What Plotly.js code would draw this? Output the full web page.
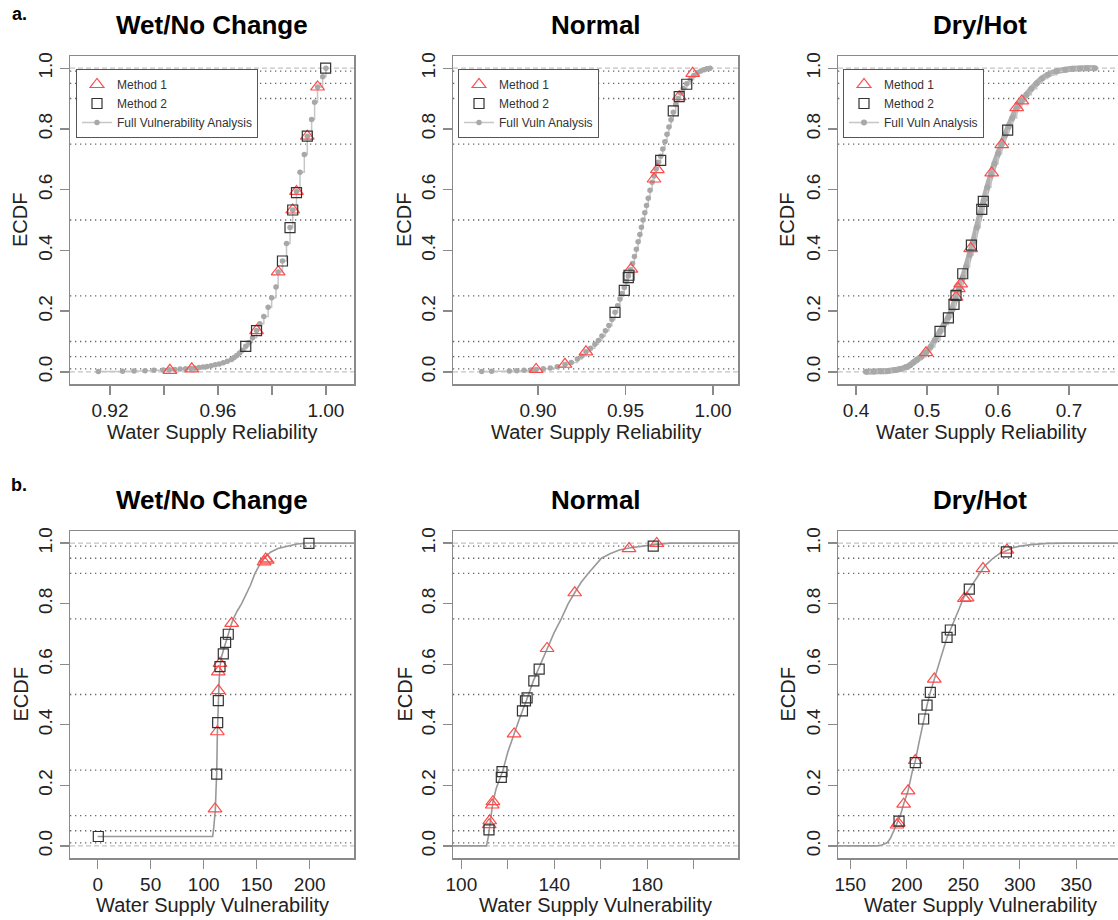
<!DOCTYPE html>
<html>
<head>
<meta charset="utf-8">
<script src="https://cdn.plot.ly/plotly-3.0.1.min.js"></script>
<style>html,body{margin:0;padding:0;background:#fff;}#chart{width:1118px;height:920px;}</style>
</head>
<body>
<div id="chart"></div>
<script>
// ---------------- DATA ----------------
const panelTitles = ['Wet/No Change', 'Normal', 'Dry/Hot'];
const rowLabels = ['a.', 'b.'];
const xTitleA = 'Water Supply Reliability';
const xTitleB = 'Water Supply Vulnerability';
const yTitle = 'ECDF';
const legendFullNames = ['Full Vulnerability Analysis', 'Full Vuln Analysis', 'Full Vuln Analysis'];
const yTickVals = [0, 0.2, 0.4, 0.6, 0.8, 1.0];
const yTickText = ['0.0', '0.2', '0.4', '0.6', '0.8', '1.0'];
const refLevels = [0.01, 0.05, 0.1, 0.25, 0.5, 0.75, 0.9, 0.95, 0.99];

// Row a: Water Supply Reliability
const a1FullX = [0.9157,0.9247,0.9289,0.9330,0.9363,0.9397,0.9420,0.9440,0.9460,0.9480,0.9500,0.9515,0.9530,0.9545,0.9560,0.9575,0.9590,0.9605,0.9620,0.9635,0.9650,0.9660,0.9670,0.9680,0.9690,0.9703,0.9715,0.9728,0.9743,0.9755,0.9770,0.9786,0.9799,0.9815,0.9823,0.9839,0.9854,0.9867,0.9877,0.9891,0.9904,0.9920,0.9931,0.9947,0.9958,0.9969,0.9988,1.0000];
const a1FullY = [0.001,0.002,0.003,0.004,0.005,0.006,0.007,0.008,0.009,0.010,0.011,0.012,0.014,0.016,0.018,0.020,0.023,0.026,0.030,0.035,0.041,0.047,0.054,0.062,0.071,0.084,0.097,0.112,0.136,0.158,0.182,0.213,0.244,0.279,0.329,0.365,0.423,0.475,0.533,0.594,0.657,0.716,0.776,0.831,0.888,0.938,0.972,1.000];
const a1M1X = [0.9422,0.9503,0.9743,0.9823,0.9877,0.9891,0.9931,0.9969];
const a1M1Y = [0.005,0.010,0.136,0.329,0.533,0.594,0.776,0.938];
const a1M2X = [0.9703,0.9743,0.9839,0.9867,0.9877,0.9891,0.9931,0.9999];
const a1M2Y = [0.084,0.136,0.365,0.475,0.533,0.590,0.776,1.000];
const a1TickVals = [0.92,0.94,0.96,0.98,1.00];
const a1TickText = ['0.92','','0.96','','1.00'];

const a2FullX = [0.8678,0.8735,0.8836,0.8878,0.8920,0.8960,0.8989,0.9030,0.9070,0.9110,0.9154,0.9190,0.9225,0.9250,0.9274,0.9300,0.9325,0.9345,0.9365,0.9385,0.9405,0.9422,0.9440,0.9455,0.9468,0.9480,0.9493,0.9505,0.9516,0.9528,0.9540,0.9551,0.9562,0.9572,0.9582,0.9591,0.9600,0.9610,0.9620,0.9630,0.9640,0.9652,0.9663,0.9675,0.9688,0.9701,0.9713,0.9725,0.9737,0.9748,0.9760,0.9773,0.9787,0.9800,0.9815,0.9830,0.9850,0.9870,0.9890,0.9910,0.9930,0.9950,0.9965,0.9983];
const a2FullY = [0.001,0.002,0.003,0.004,0.005,0.006,0.008,0.010,0.013,0.017,0.024,0.031,0.042,0.052,0.066,0.078,0.091,0.103,0.118,0.135,0.153,0.172,0.196,0.218,0.240,0.258,0.278,0.298,0.316,0.336,0.357,0.380,0.404,0.428,0.452,0.476,0.500,0.524,0.548,0.572,0.598,0.624,0.645,0.668,0.690,0.710,0.734,0.758,0.782,0.806,0.830,0.855,0.880,0.900,0.918,0.933,0.949,0.963,0.976,0.985,0.991,0.995,0.998,1.000];
const a2M1X = [0.8989,0.9154,0.9274,0.9531,0.9663,0.9682,0.9807,0.9884];
const a2M1Y = [0.008,0.025,0.066,0.338,0.635,0.666,0.906,0.983];
const a2M2X = [0.9440,0.9493,0.9516,0.9520,0.9701,0.9773,0.9807,0.9850];
const a2M2Y = [0.196,0.268,0.310,0.318,0.696,0.859,0.906,0.947];
const a2TickVals = [0.90,0.95,1.00];
const a2TickText = ['0.90','0.95','1.00'];

const a3FullX = [0.4140,0.4250,0.4350,0.4450,0.4550,0.4620,0.4700,0.4760,0.4808,0.4860,0.4920,0.4986,0.5050,0.5110,0.5183,0.5240,0.5301,0.5350,0.5400,0.5450,0.5503,0.5550,0.5600,0.5650,0.5700,0.5750,0.5800,0.5850,0.5900,0.5950,0.6000,0.6052,0.6100,0.6150,0.6200,0.6263,0.6335,0.6400,0.6470,0.6545,0.6620,0.6700,0.6827,0.6950,0.7050,0.7155,0.7250,0.7366];
const a3FullY = [0.000,0.001,0.002,0.003,0.006,0.009,0.015,0.022,0.031,0.040,0.050,0.064,0.082,0.104,0.133,0.156,0.180,0.204,0.240,0.272,0.310,0.345,0.385,0.428,0.475,0.520,0.565,0.608,0.648,0.685,0.718,0.750,0.780,0.808,0.836,0.868,0.892,0.912,0.932,0.950,0.966,0.978,0.990,0.995,0.998,0.999,1.000,1.000];
const a3M1X = [0.4986,0.5408,0.5441,0.5474,0.5615,0.5911,0.6052,0.6263,0.6335];
const a3M1Y = [0.063,0.246,0.274,0.290,0.406,0.655,0.748,0.870,0.892];
const a3M2X = [0.5183,0.5301,0.5380,0.5408,0.5503,0.5625,0.5771,0.5793,0.6136];
const a3M2Y = [0.133,0.178,0.222,0.252,0.323,0.417,0.535,0.561,0.796];
const a3TickVals = [0.4,0.5,0.6,0.7];
const a3TickText = ['0.4','0.5','0.6','0.7'];

// Row b: Water Supply Vulnerability
const b1FullX = [0,108.5,109.5,110.2,111.0,111.8,112.3,112.9,113.3,113.8,114.5,115.4,116.5,118.5,120.7,123.2,126.4,128.0,131.5,135.8,140.0,144.0,148.4,153.0,157.2,163.0,170.0,178.3,188.0,197.0,241.8];
const b1FullY = [0.031,0.031,0.060,0.090,0.120,0.200,0.240,0.370,0.420,0.490,0.540,0.590,0.620,0.645,0.672,0.700,0.735,0.750,0.775,0.800,0.830,0.860,0.900,0.930,0.950,0.970,0.982,0.990,0.997,1.000,1.000];
const b1M1X = [110.7,112.9,113.8,113.8,115.4,126.4,157.0,158.5,160.0];
const b1M1Y = [0.122,0.377,0.513,0.575,0.603,0.735,0.938,0.948,0.944];
const b1M2X = [0.6,112.3,113.2,113.8,115.4,118.5,120.7,123.2,199.3];
const b1M2Y = [0.031,0.237,0.407,0.480,0.592,0.634,0.672,0.699,0.999];
const b1TickVals = [0,50,100,150,200];
const b1TickText = ['0','50','100','150','200'];

const b2FullX = [96.4,110.8,111.6,112.2,113.0,113.6,115.0,116.5,117.9,120.0,122.7,125.0,128.0,131.0,133.5,136.9,140.0,143.0,146.0,148.8,151.5,154.6,157.5,160.3,164.0,168.0,172.2,177.6,183.0,189.8,219.1];
const b2FullY = [0,0,0.030,0.070,0.110,0.145,0.190,0.220,0.250,0.310,0.370,0.420,0.480,0.545,0.590,0.652,0.705,0.750,0.800,0.836,0.870,0.900,0.925,0.950,0.965,0.977,0.984,0.990,0.995,1.000,1.000];
const b2M1X = [112.0,112.2,113.3,113.6,122.7,136.9,148.8,172.2,184.1];
const b2M1Y = [0.070,0.083,0.135,0.146,0.370,0.652,0.836,0.982,0.999];
const b2M2X = [111.9,117.2,117.5,126.3,127.6,128.3,131.2,133.5,182.6];
const b2M2Y = [0.053,0.226,0.245,0.446,0.479,0.489,0.545,0.584,0.990];
const b2TickVals = [100,120,140,160,180,200];
const b2TickText = ['100','','140','','180',''];

const b3FullX = [139.1,173.6,178.0,182.5,185.5,188.4,191.3,194.2,197.2,201.1,205.1,207.5,211.0,214.9,217.9,220.8,224.3,228.0,232.0,235.6,238.5,242.9,246.5,250.3,255.3,259.5,264.4,267.4,270.0,276.3,282.0,288.6,294.0,300.4,310.0,324.0,340.0,387.2];
const b3FullY = [0,0,0.003,0.010,0.025,0.050,0.069,0.100,0.138,0.182,0.250,0.280,0.345,0.419,0.465,0.507,0.551,0.600,0.650,0.689,0.713,0.750,0.785,0.820,0.848,0.875,0.900,0.916,0.928,0.950,0.965,0.977,0.985,0.990,0.995,0.999,1.000,1.000];
const b3M1X = [191.3,192.5,197.2,201.1,207.5,224.3,250.9,253.3,267.4,288.6];
const b3M1Y = [0.069,0.075,0.138,0.182,0.282,0.551,0.817,0.819,0.916,0.977];
const b3M2X = [193.1,207.5,214.9,217.9,220.8,235.6,238.5,255.3,288.1];
const b3M2Y = [0.082,0.275,0.419,0.465,0.507,0.689,0.713,0.848,0.971];
const b3TickVals = [150,200,250,300,350];
const b3TickText = ['150','200','250','300','350'];

// ---------------- LAYOUT / STYLE ----------------
const W = 1118, H = 920;
const FONT = 'Liberation Sans, Arial, Helvetica, sans-serif';
const px = v => v / W;
const py = v => 1 - v / H;

const panels = [
  {full:[a1FullX,a1FullY], m1:[a1M1X,a1M1Y], m2:[a1M2X,a1M2Y], tv:a1TickVals, tt:a1TickText, range:[0.9052,1.0104], col:0, row:0},
  {full:[a2FullX,a2FullY], m1:[a2M1X,a2M1Y], m2:[a2M2X,a2M2Y], tv:a2TickVals, tt:a2TickText, range:[0.8514,1.0143], col:1, row:0},
  {full:[a3FullX,a3FullY], m1:[a3M1X,a3M1Y], m2:[a3M2X,a3M2Y], tv:a3TickVals, tt:a3TickText, range:[0.3746,0.7690], col:2, row:0, band:true},
  {full:[b1FullX,b1FullY], m1:[b1M1X,b1M1Y], m2:[b1M2X,b1M2Y], tv:b1TickVals, tt:b1TickText, range:[-26.1,241.8], col:0, row:1},
  {full:[b2FullX,b2FullY], m1:[b2M1X,b2M1Y], m2:[b2M2X,b2M2Y], tv:b2TickVals, tt:b2TickText, range:[96.4,219.1], col:1, row:1},
  {full:[b3FullX,b3FullY], m1:[b3M1X,b3M1Y], m2:[b3M2X,b3M2Y], tv:b3TickVals, tt:b3TickText, range:[139.1,386.9], col:2, row:1}
];
const colPx = [[70,354],[453,738],[838,1118]];
const rowPx = [[56,384],[531,858]];
const yTitlePx = [20, 404, 787];
const titleCenterPx = [212, 595.5, 980];

const traces = [];
const shapes = [];
const annotations = [];
const layout = {
  width: W, height: H,
  margin: {l:0, r:0, t:0, b:0},
  paper_bgcolor: '#fff', plot_bgcolor: '#fff',
  font: {family: FONT, color: '#222'},
  showlegend: true,
  shapes: shapes, annotations: annotations
};

const BOX = '#8a8a8a';
panels.forEach((p, i) => {
  const n = i + 1;
  const xa = n === 1 ? 'x' : 'x' + n;
  const ya = n === 1 ? 'y' : 'y' + n;
  const xk = n === 1 ? 'xaxis' : 'xaxis' + n;
  const yk = n === 1 ? 'yaxis' : 'yaxis' + n;
  const [cl, cr] = colPx[p.col];
  const [rt, rb] = rowPx[p.row];
  layout[xk] = {
    domain: [px(cl), px(cr)], anchor: ya, range: p.range,
    tickmode: 'array', tickvals: p.tv, ticktext: p.tt,
    ticks: 'outside', ticklen: 9, tickwidth: 1.3, tickcolor: BOX,
    showline: true, mirror: true, linecolor: BOX, linewidth: 1.5,
    showgrid: false, zeroline: false,
    tickfont: {family: FONT, size: 19, color: '#222'}
  };
  layout[yk] = {
    domain: [py(rb), py(rt)], anchor: xa, range: [-0.04, 1.04],
    tickmode: 'array', tickvals: yTickVals, ticktext: yTickText, tickangle: -90,
    ticks: 'outside', ticklen: 9, tickwidth: 1.3, tickcolor: BOX,
    showline: true, mirror: p.col === 2 ? false : true, linecolor: BOX, linewidth: 1.5,
    showgrid: false, zeroline: false,
    tickfont: {family: FONT, size: 19, color: '#222'}
  };
  // reference lines
  refLevels.forEach(v => shapes.push({type:'line', xref: xa + ' domain', yref: ya, x0:0, x1:1, y0:v, y1:v,
    line:{color:'#666', width:1.3, dash:'1.3px,3.7px'}, layer:'below'}));
  [0, 1].forEach(v => shapes.push({type:'line', xref: xa + ' domain', yref: ya, x0:0, x1:1, y0:v, y1:v,
    line:{color:'#c4c4c4', width:1.2, dash:'5px,3px'}, layer:'below'}));

  const legendId = p.row === 0 ? (p.col === 0 ? 'legend' : 'legend' + (p.col + 1)) : 'legend';
  const showLeg = p.row === 0;
  if (p.row === 0) {
    if (p.band) {
      traces.push({x: p.full[0], y: p.full[1], xaxis: xa, yaxis: ya, mode: 'lines', showlegend: false,
        line: {shape: 'spline', color: '#b0b0b0', width: 6}, hoverinfo: 'skip'});
    }
    traces.push({x: p.full[0], y: p.full[1], xaxis: xa, yaxis: ya, name: legendFullNames[p.col],
      mode: 'lines+markers', line: {shape: 'hv', color: '#c6c6c6', width: 1.5},
      marker: {color: '#a8a8a8', size: p.band ? 6 : 5.5}, legend: legendId, legendrank: 3, showlegend: showLeg});
  } else {
    traces.push({x: p.full[0], y: p.full[1], xaxis: xa, yaxis: ya, name: 'Full', mode: 'lines',
      line: {color: '#999', width: 1.6}, showlegend: false});
  }
  traces.push({x: p.m1[0], y: p.m1[1], xaxis: xa, yaxis: ya, name: 'Method 1', mode: 'markers',
    marker: {symbol: 'triangle-up-open', size: 12, color: '#ff4a4a', line: {width: 1.2}},
    legend: legendId, legendrank: 1, showlegend: showLeg});
  traces.push({x: p.m2[0], y: p.m2[1], xaxis: xa, yaxis: ya, name: 'Method 2', mode: 'markers',
    marker: {symbol: 'square-open', size: 10, color: '#333', line: {width: 1.2}},
    legend: legendId, legendrank: 2, showlegend: showLeg});

  // panel title
  annotations.push({xref:'paper', yref:'paper', x: px(titleCenterPx[p.col]), y: py(p.row === 0 ? 25 : 500),
    xanchor:'center', yanchor:'middle', showarrow:false, text: '<b>' + panelTitles[p.col] + '</b>',
    font:{family: FONT, size: 26, color:'#000'}});
  // x title
  annotations.push({xref:'paper', yref:'paper', x: px((cl + (p.col === 2 ? 1123 : cr)) / 2), y: py(p.row === 0 ? 432 : 905),
    xanchor:'center', yanchor:'middle', showarrow:false, text: p.row === 0 ? xTitleA : xTitleB,
    font:{family: FONT, size: 20, color:'#222'}});
  // y title
  annotations.push({xref:'paper', yref:'paper', x: px(yTitlePx[p.col]), y: py((rt + rb) / 2),
    xanchor:'center', yanchor:'middle', showarrow:false, textangle: -90, text: yTitle,
    font:{family: FONT, size: 20, color:'#222'}});
});

annotations.push({xref:'paper', yref:'paper', x: px(19), y: py(14), xanchor:'center', yanchor:'middle',
  showarrow:false, text:'<b>' + rowLabels[0] + '</b>', font:{family: FONT, size: 18, color:'#000'}});
annotations.push({xref:'paper', yref:'paper', x: px(19), y: py(485), xanchor:'center', yanchor:'middle',
  showarrow:false, text:'<b>' + rowLabels[1] + '</b>', font:{family: FONT, size: 18, color:'#000'}});

const legStyle = (xpx) => ({x: px(xpx), y: py(69), xanchor:'left', yanchor:'top', bgcolor:'#fff',
  bordercolor:'#555', borderwidth: 1, font:{family: FONT, size: 12, color:'#333'}, tracegroupgap: 0,
  itemclick: false, itemdoubleclick: false});
layout.legend = legStyle(76);
layout.legend2 = legStyle(458);
layout.legend3 = legStyle(843);

Plotly.newPlot('chart', traces, layout, {displayModeBar: false, staticPlot: true});
</script>
</body>
</html>
